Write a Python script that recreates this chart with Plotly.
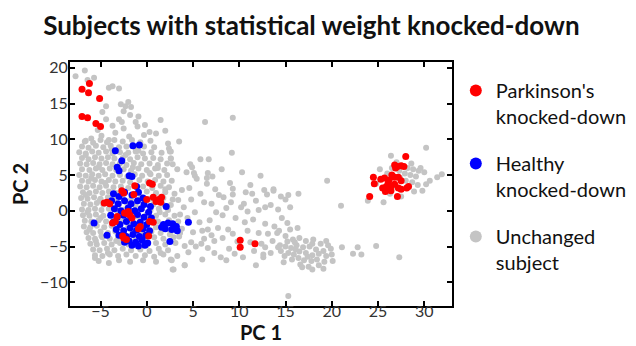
import plotly.graph_objects as go

# ---------------- data ----------------
grey_pts = [
    # upper arm
    (-7.7, 18.8), (-6.7, 19.6), (-5.7, 18.6), (-6.4, 18.3), (-4.1, 17.2), (-3.7, 17.4), (-3.0, 17.1),
    (-4.4, 14.6), (-4.8, 13.8), (-2.8, 14.9), (-2.3, 14.6), (-1.7, 14.5), (-2.0, 15.2), (-2.5, 13.9),
    (-4.4, 12.8), (-3.0, 12.8), (-2.7, 12.4), (-1.2, 12.4), (-0.9, 13.2), (-1.0, 11.8), (-3.7, 11.9),
    (-2.5, 11.5), (1.5, 12.7), (2.0, 11.2), (-4.9, 10.5), (-6.7, 9.7), (0.3, 11.0), (-0.3, 10.6),
    (-5.3, 11.3), (-1.8, 13.4), (1.0, 10.8), (3.5, 9.7), (2.4, 8.7), (6.3, 12.4), (9.3, 13.0), (9.2, 8.1),
    (-3.4, 10.9), (-1.9, 10.4), (-4.1, 9.9), (-0.2, 12.0), (-6.0, 10.1),
    # dense core
    (-6.6, 9.8), (-5.8, 9.5), (-5.0, 9.9), (-4.3, 9.6), (-3.5, 9.9), (-2.6, 9.7), (-1.6, 9.9), (-0.7, 9.6), (0.4, 9.8), (2.3, 9.4),
    (-7.0, 9.0), (-6.3, 8.8), (-5.5, 9.1), (-4.7, 8.9), (-3.9, 9.1), (-3.0, 8.9), (-2.2, 9.0), (-1.2, 8.7), (-0.3, 9.0), (0.8, 8.9), (2.6, 8.3),
    (-7.3, 8.2), (-6.6, 8.0), (-5.9, 8.3), (-5.2, 8.1), (-4.4, 8.3), (-3.7, 8.0), (-2.9, 8.2), (-2.0, 8.1), (-1.2, 8.3), (-0.4, 8.0), (0.5, 8.2), (1.6, 8.1),
    (-7.0, 7.4), (-6.3, 7.2), (-5.6, 7.5), (-4.9, 7.3), (-4.2, 7.5), (-3.5, 7.3), (-2.6, 7.4), (-1.8, 7.2), (-1.0, 7.5), (-0.2, 7.3), (0.7, 7.4), (1.5, 7.2), (2.6, 7.3),
    (-7.2, 6.6), (-6.5, 6.5), (-5.8, 6.7), (-5.1, 6.5), (-4.4, 6.7), (-3.7, 6.5), (-2.9, 6.6), (-2.2, 6.4), (-1.4, 6.7), (-0.6, 6.5), (0.3, 6.6), (1.2, 6.4), (2.2, 6.6),
    (-7.0, 5.8), (-6.2, 5.7), (-5.5, 5.9), (-4.8, 5.7), (-4.0, 5.9), (-3.3, 5.7), (-2.5, 5.8), (-1.7, 5.6), (-0.9, 5.9), (0.0, 5.7), (0.9, 5.9), (1.9, 5.7), (3.3, 5.8),
    (-7.3, 5.0), (-6.6, 4.9), (-5.9, 5.1), (-5.2, 4.9), (-4.5, 5.1), (-3.7, 4.9), (-2.9, 5.0), (-2.1, 4.8), (-1.3, 5.1), (-0.5, 4.9), (0.4, 5.1), (1.3, 4.9), (2.2, 5.0),
    (-7.0, 4.2), (-6.3, 4.1), (-5.6, 4.3), (-4.9, 4.1), (-4.1, 4.3), (-3.4, 4.1), (-2.6, 4.2), (-1.8, 4.0), (-0.8, 4.3), (0.1, 4.1), (0.9, 4.3), (1.8, 4.1), (2.7, 4.2),
    (-7.2, 3.4), (-6.5, 3.3), (-5.8, 3.5), (-5.1, 3.3), (-4.4, 3.5), (-3.6, 3.3), (-2.8, 3.4), (-2.0, 3.2), (-0.4, 3.4), (0.6, 3.2), (1.5, 3.5), (2.4, 3.3),
    (-6.9, 2.6), (-6.2, 2.5), (-5.5, 2.7), (-4.8, 2.5), (-4.1, 2.7), (-3.3, 2.5), (-2.4, 2.6), (-1.2, 2.4), (0.0, 2.7), (1.0, 2.5), (2.0, 2.6), (3.0, 2.4),
    (-7.1, 1.8), (-6.4, 1.7), (-5.7, 1.9), (-5.0, 1.7), (-4.2, 1.9), (-3.5, 1.7), (-2.6, 1.8), (-1.7, 1.6), (-0.6, 1.9), (0.4, 1.7), (1.8, 1.8), (2.8, 1.6),
    (-6.8, 1.0), (-6.1, 0.9), (-5.4, 1.1), (-4.7, 0.9), (-3.9, 1.1), (-3.0, 0.9), (-2.1, 1.0), (-1.2, 0.8), (-0.3, 1.1), (0.7, 0.9), (1.7, 1.0), (2.6, 0.8),
    (-7.0, 0.2), (-6.3, 0.1), (-5.6, 0.3), (-4.9, 0.1), (-4.1, 0.3), (-3.3, 0.1), (-2.4, 0.2), (-1.4, 0.0), (-0.5, 0.3), (0.4, 0.1), (1.3, 0.3), (2.3, 0.1),
    (-6.9, -0.6), (-6.2, -0.7), (-5.5, -0.5), (-4.7, -0.7), (-3.9, -0.5), (-3.0, -0.7), (-2.0, -0.6), (-1.0, -0.8), (0.0, -0.5), (1.0, -0.7), (2.0, -0.5), (3.0, -0.7),
    (-6.7, -1.4), (-6.0, -1.5), (-5.2, -1.3), (-4.4, -1.5), (-3.6, -1.3), (-2.7, -1.5), (-1.8, -1.4), (-0.8, -1.6), (0.2, -1.3), (1.2, -1.5), (2.4, -1.3), (3.4, -1.5),
    (-6.8, -2.2), (-6.1, -2.3), (-5.4, -2.1), (-4.6, -2.3), (-3.8, -2.1), (-2.9, -2.3), (-2.0, -2.2), (-1.0, -2.4), (0.0, -2.1), (1.0, -2.3), (2.0, -2.1), (3.2, -2.3),
    (-6.5, -3.0), (-5.8, -3.1), (-5.0, -2.9), (-4.2, -3.1), (-3.4, -2.9), (-2.5, -3.1), (-1.5, -3.0), (-0.5, -3.2), (0.5, -2.9), (1.5, -3.1), (2.6, -2.9), (3.6, -3.1),
    (-6.3, -3.8), (-5.6, -3.9), (-4.8, -3.7), (-4.0, -3.9), (-3.1, -3.7), (-2.2, -3.9), (-1.2, -3.8), (-0.2, -4.0), (0.8, -3.7), (1.8, -3.9), (2.9, -3.7),
    (-6.1, -4.6), (-5.4, -4.7), (-4.6, -4.5), (-3.8, -4.7), (-2.9, -4.5), (-2.0, -4.7), (-1.0, -4.6), (0.0, -4.8), (1.0, -4.5), (2.0, -4.7), (3.1, -4.5),
    (-5.8, -5.4), (-5.1, -5.5), (-4.3, -5.3), (-3.5, -5.5), (-2.6, -5.3), (-1.7, -5.5), (-0.7, -5.4), (0.3, -5.6), (1.3, -5.3), (2.3, -5.5),
    (-5.6, -6.2), (-4.8, -6.3), (-4.0, -6.1), (-3.1, -6.3), (-2.2, -6.1), (-1.2, -6.3), (-0.2, -6.2), (0.8, -6.4), (1.8, -6.1),
    (-5.2, -7.0), (-4.1, -7.3), (-3.0, -6.9), (-1.8, -7.1), (-0.4, -6.9), (1.0, -7.1), (2.6, -6.8),
    (-5.6, -6.6), (2.8, -8.2), (4.1, -7.6), (2.7, -6.9),
    # extra fill in the dense core
    (-6.6, 7.8), (-5.2, 6.1), (-3.8, 8.6), (-2.3, 7.8), (-0.9, 8.4), (-6.0, 4.6), (-4.5, 3.9), (-3.0, 5.4),
    (-1.5, 6.1), (0.3, 5.3), (-6.6, 2.2), (-5.1, 1.4), (-6.4, -0.2), (-5.0, -1.0), (-6.2, -2.6), (-4.9, -3.5),
    (-5.5, -4.2), (-4.2, -5.9), (-3.3, -4.2), (1.5, -5.9), (2.5, -3.3), (1.4, -0.2), (2.0, 3.0), (1.2, 6.0),
    # sparse middle band
    (2.5, 8.3), (2.6, 7.3), (2.8, 6.5), (5.8, 7.2), (6.7, 7.2), (4.7, 6.5), (4.9, 6.1), (4.3, 5.4), (5.1, 5.3),
    (5.2, 4.9), (6.6, 5.3), (6.5, 4.6), (10.3, 5.4), (12.3, 4.9), (5.4, 4.5), (6.5, 3.8), (9.0, 3.9), (9.3, 3.1),
    (7.4, 3.0), (13.7, 3.0), (8.3, 1.9), (9.3, 2.3), (10.7, 2.6), (11.4, 2.4), (13.0, 2.3), (13.7, 2.8), (15.0, 1.6),
    (15.5, 0.5), (13.4, 0.8), (12.1, 0.1), (10.9, -0.1), (10.2, 0.5), (9.1, 1.2), (8.2, -0.6), (7.0, 1.0), (6.2, 1.2),
    (4.8, 1.6), (4.0, 0.5), (3.4, 1.5), (6.6, -2.6), (7.7, -2.4), (8.8, -2.6), (9.3, -3.2), (10.9, -2.8), (12.1, -3.1),
    (13.1, -3.2), (14.1, -3.1), (15.0, -3.5), (6.2, -3.9), (7.3, -4.2), (5.9, -4.6), (4.8, -4.4), (4.1, -4.9),
    (4.5, -5.8), (7.3, -5.9), (8.0, -6.5), (8.6, -6.9), (10.4, -6.5), (12.6, -6.5), (13.4, -5.9), (14.8, -7.2),
    (4.1, -7.6), (2.9, -8.2), (3.6, -0.5), (4.4, -1.0), (5.2, -0.2), (5.7, -1.6), (6.8, -1.3), (7.5, -0.2), (8.6, 0.4),
    (9.6, -1.0), (10.6, -1.6), (11.5, -1.2), (12.8, -1.8), (13.8, -2.2), (14.6, -1.0), (3.8, -2.5), (5.0, -3.0),
    (6.0, -2.8), (7.0, -3.4), (8.2, -3.8), (9.8, -4.3), (11.2, -4.4), (12.4, -4.6), (13.6, -4.2), (14.4, -4.8),
    (3.5, -3.6), (5.3, -5.0), (6.6, -5.2), (8.9, -5.3), (11.6, -5.6), (9.5, -6.0), (3.3, -6.3), (6.0, -6.8),
    (11.8, -7.6), (4.6, 3.2), (5.8, 2.4), (7.8, 2.2), (3.8, 2.9), (10.5, 1.0), (11.8, 1.4), (14.2, 0.2), (7.1, 4.8),
    (8.1, 5.8), (11.2, 3.6), (12.7, 2.9), (14.5, 2.0), (15.3, 2.2), (16.4, 2.4), (12.8, 0.5), (15.2, -1.7),
    (15.5, -2.6), (16.3, -2.4), (14.3, -2.8), (12.8, -5.1), (14.2, -5.1), (12.6, -6.1),
    # cluster around PC1 = 15..20
    (15.2, -4.3), (15.8, -4.0), (16.5, -3.8), (17.2, -4.2), (18.0, -4.0), (18.8, -4.6), (19.6, -4.8), (15.0, -5.0),
    (15.6, -5.2), (16.2, -4.8), (16.9, -5.1), (17.6, -5.0), (18.3, -5.4), (19.1, -5.6), (19.9, -5.3), (15.3, -5.9),
    (15.9, -6.1), (16.5, -5.7), (17.2, -5.9), (17.9, -6.2), (18.6, -6.0), (19.4, -6.3), (20.0, -6.1), (15.7, -6.8),
    (16.4, -6.6), (17.0, -6.9), (17.8, -7.0), (18.4, -6.8), (19.2, -7.1), (16.6, -7.5), (17.5, -7.8), (18.6, -7.6),
    (14.5, -5.6), (14.9, -6.3), (16.0, -4.4), (17.9, -4.6), (19.4, -4.2), (20.1, -7.0), (16.8, -7.9), (17.9, -8.2),
    (19.1, -8.1), (16.1, -5.4), (17.4, -6.4),
    (21.1, -5.1), (22.3, -6.0), (22.8, -5.1), (23.2, -6.1), (24.8, -4.9), (27.3, -6.5), (21.0, 0.7), (19.5, 4.2),
    (15.3, -11.9),
    # cluster around PC1 = 24..32
    (30.2, 8.8), (26.4, 7.7), (31.9, 5.1), (31.4, 4.7), (30.0, 5.4), (29.8, 2.8), (28.9, 2.7), (30.2, 3.7),
    (23.9, 1.4), (25.6, 1.2), (27.0, 6.8), (27.6, 6.3), (28.2, 6.0), (28.8, 5.8), (29.4, 5.6), (26.5, 6.0),
    (27.9, 5.2), (28.5, 5.0), (29.1, 4.8), (27.3, 5.6), (26.0, 5.2), (28.0, 4.2), (28.7, 4.0), (29.3, 3.6),
    (27.4, 4.6), (28.2, 3.3), (25.2, 5.8), (26.9, 3.4), (29.6, 6.0), (28.6, 6.6), (30.6, 4.2), (24.8, 3.8),
    (26.3, 2.4), (27.5, 2.0),
]

healthy_pts = [
    (-3.4, 8.4), (-1.5, 9.1), (-0.8, 9.2), (-2.7, 7.0), (-3.2, 6.1), (-3.0, 5.6), (-1.9, 4.9), (-1.6, 4.8),
    (-1.1, 3.4), (2.1, 0.6), (4.5, -1.6), (-5.7, -1.7), (-4.3, -3.4), (2.5, -4.3),
    (1.8, -1.9), (2.3, -1.7), (2.8, -1.8), (3.2, -2.2), (2.0, -2.5), (2.7, -2.6), (3.3, -2.8), (1.6, -2.3),
    (-3.6, 2.4), (-3.0, 2.0), (-2.4, 2.6), (-1.6, 2.2), (-0.9, 2.6), (-0.4, 1.8), (-3.8, 1.4), (-3.1, 1.0),
    (-2.4, 1.4), (-1.7, 1.0), (-1.0, 1.4), (-0.3, 0.9), (0.4, 0.6), (-3.5, 0.3), (-2.8, 0.0), (-2.0, 0.4),
    (-1.3, 0.0), (-0.6, 0.3), (0.2, -0.2), (-3.9, -0.6), (-3.2, -0.9), (-2.5, -0.6), (-1.7, -0.9), (-1.0, -0.5),
    (-0.3, -0.9), (0.5, -1.0), (-3.6, -1.6), (-2.9, -1.9), (-2.2, -1.5), (-1.4, -1.8), (-0.7, -1.6), (0.0, -1.9),
    (-3.3, -2.6), (-2.5, -2.8), (-1.8, -2.4), (-1.1, -2.7), (-0.4, -2.5), (0.3, -2.8), (-3.0, -3.4), (-2.2, -3.6),
    (-1.5, -3.3), (-0.8, -3.6), (-0.1, -3.4), (-1.9, -4.2), (-1.2, -4.4), (-0.5, -4.1), (0.1, -4.5), (-1.6, -4.8),
    (-0.9, -4.9), (-0.2, -4.8), (-2.4, -4.4),
]

parkinson_pts = [
    # upper-left
    (-6.2, 17.8), (-7.0, 17.0), (-6.3, 16.5), (-5.1, 15.7), (-7.0, 13.2), (-6.4, 13.0), (-5.5, 12.2), (-5.0, 11.8),
    # core
    (-4.3, 1.2), (-4.0, 1.0), (-4.6, 1.1), (-3.4, -1.5), (-3.7, -1.7), (-2.7, 2.8), (-2.5, 2.5), (-2.1, -0.4),
    (-1.8, -0.6), (-2.4, -0.3), (-2.0, -0.1), (-2.5, -3.8), (-2.2, -4.0), (-2.6, -3.5), (-1.3, 3.5), (-0.7, -2.2),
    (-0.9, -2.5), (0.3, 3.9), (0.6, 3.7), (0.0, 1.6), (0.7, 1.9), (1.3, 1.6), (1.5, 1.2), (1.0, 1.3), (1.6, 1.9),
    (0.3, -1.5), (0.7, -1.6), (0.2, -3.5), (-1.4, 2.3), (-3.2, -0.8), (-1.6, -1.0),
    # middle
    (10.1, -4.1), (10.1, -5.1), (11.7, -4.6),
    # right cluster
    (28.0, 7.6), (26.8, 6.4), (27.1, 6.2), (27.5, 6.3), (27.8, 6.2), (26.9, 6.0), (24.5, 4.7), (24.6, 3.8),
    (24.1, 2.0), (25.7, 4.6), (26.2, 4.3), (26.8, 4.7), (27.2, 4.7), (25.5, 3.2), (25.9, 3.4), (26.4, 3.4),
    (26.8, 3.7), (27.2, 3.2), (27.5, 3.0), (25.8, 2.7), (26.4, 2.8), (27.1, 2.0), (28.1, 3.2), (28.3, 3.4),
    (26.1, 3.9), (27.5, 4.2), (25.3, 4.4), (26.5, 5.0),
]

legend_names = ["Parkinson's<br>knocked-down", "Healthy<br>knocked-down", "Unchanged<br>subject"]
x_ticks = [-5, 0, 5, 10, 15, 20, 25, 30]
y_ticks = [-10, -5, 0, 5, 10, 15, 20]


def split(pts):
    return [p[0] for p in pts], [p[1] for p in pts]


gx, gy = split(grey_pts)
hx, hy = split(healthy_pts)
px_, py_ = split(parkinson_pts)

FONT = "Lato"

fig = go.Figure()
fig.add_trace(go.Scatter(x=gx, y=gy, mode="markers", name=legend_names[2],
                         marker=dict(color="#c4c4c4", size=6), legendrank=3, legendgroup="g"))
fig.add_trace(go.Scatter(x=hx, y=hy, mode="markers", name=legend_names[1],
                         marker=dict(color="#0000ff", size=7), legendrank=2, legendgroup="h"))
fig.add_trace(go.Scatter(x=px_, y=py_, mode="markers", name=legend_names[0],
                         marker=dict(color="#ff0000", size=7), legendrank=1, legendgroup="p"))

axis_common = dict(
    showline=True, linecolor="black", linewidth=2, mirror="ticks",
    ticks="inside", ticklen=5, tickwidth=2, tickcolor="black",
    showgrid=False, zeroline=False, automargin=False,
    tickfont=dict(family=FONT, size=16, color="#333333"),
)

fig.update_layout(
    width=636, height=346,
    margin=dict(l=62, r=188, t=54, b=48),
    paper_bgcolor="white", plot_bgcolor="white",
    title=dict(text="<b>Subjects with statistical weight knocked-down</b>",
               font=dict(family=FONT, size=26, color="#111111"),
               x=0.477, xanchor="center", xref="container",
               y=1 - 18 / 346, yanchor="middle", yref="container"),
    xaxis=dict(range=[-8.3, 33], tickvals=x_ticks, ticklabelstandoff=-10,
               title=dict(text="<b>PC 1</b>", font=dict(family=FONT, size=20, color="#111111"), standoff=0),
               **axis_common),
    yaxis=dict(range=[-13.3, 20.8], tickvals=y_ticks, ticklabelstandoff=-3,
               title=dict(text="<b>PC 2</b>", font=dict(family=FONT, size=20, color="#111111"), standoff=6),
               **axis_common),
    legend=dict(x=1.01, xanchor="left", y=0.963, yanchor="top",
                font=dict(family=FONT, size=20, color="#111111"),
                itemsizing="constant", valign="top", tracegroupgap=18,
                bgcolor="rgba(0,0,0,0)"),
    showlegend=True,
)

fig.write_html("out.html")
